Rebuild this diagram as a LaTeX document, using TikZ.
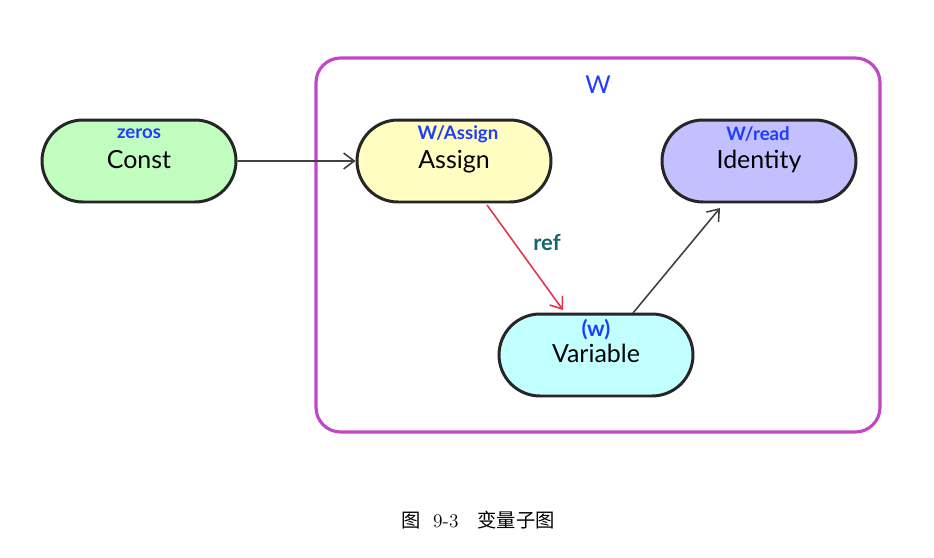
\documentclass[tikz,border=0pt]{standalone}
\usepackage{fontspec}
\usepackage{tikz}
\usetikzlibrary{shapes.misc, arrows.meta}
\newfontfamily\diagfont{Lato}
\newfontfamily\cjkfont{Noto Sans CJK SC}

\definecolor{constfill}{HTML}{C2FDC0}
\definecolor{assignfill}{HTML}{FFFDC0}
\definecolor{identfill}{HTML}{C2C0FF}
\definecolor{varfill}{HTML}{C2FFFF}
\definecolor{tagblue}{HTML}{1F3CFF}
\definecolor{boxpurple}{HTML}{C047C8}
\definecolor{refred}{HTML}{E8324E}
\definecolor{refteal}{HTML}{17656B}

\begin{document}
\begin{tikzpicture}[x=0.02cm, y=-0.02cm,
    op/.style={rounded rectangle, draw=black!85, line width=1.7pt,
      minimum width=3.88cm, minimum height=1.64cm, inner sep=0pt,
      text height=1.08em, text depth=0.2em,
      font=\diagfont\fontsize{14.2}{17}\selectfont},
    tag/.style={font=\diagfont\bfseries\fontsize{10.6}{12}\selectfont, text=tagblue, inner sep=0pt}]
    \useasboundingbox (0,0) rectangle (934,558);

    % the subgraph box
    \draw [boxpurple, line width=1.8pt, rounded corners=14] (316,58) rectangle (880,432);
    \node [font=\diagfont\fontsize{14}{16}\selectfont, text=tagblue] (w) at (598,85) {W};

    \begin{scope}[every node/.style={op}]
      \node [fill=constfill] (const) at (139,161) {Const};
      \node [fill=assignfill] (assign) at (454,161) {Assign};
      \node [fill=identfill] (ident) at (759,161) {Identity};
      \node [fill=varfill] (var) at (596,355) {Variable};
    \end{scope}
    \begin{scope}[every node/.style={tag}]
      \node (constTag) at (139,134) {zeros};
      \node (assignTag) at (458,134) {W/Assign};
      \node (identTag) at (758,134) {W/read};
      \node [font=\diagfont\bfseries\fontsize{12.5}{14}\selectfont] (varTag) at (596,330) {(w)};
    \end{scope}

    \coordinate (refStart) at (487,205);
    \coordinate (refEnd) at (563,310);
    \coordinate (readStart) at (633,313);
    \coordinate (readEnd) at (720,208);
    \begin{scope}[-{Straight Barb[length=6pt, width=9pt]}, black!75, line width=0.9pt]
      \draw (const) to (assign);
      \draw [refred] (refStart) to (refEnd);
      \draw (readStart) to (readEnd);
    \end{scope}
    \node [font=\diagfont\bfseries\fontsize{12.5}{14}\selectfont, text=refteal] (ref) at (547,243) {ref};

    \node [font=\fontsize{11}{13}\selectfont] (caption) at (478,520) {{\cjkfont 图}\ \ 9-3\ \ \ {\cjkfont 变量子图}};
\end{tikzpicture}
\end{document}
